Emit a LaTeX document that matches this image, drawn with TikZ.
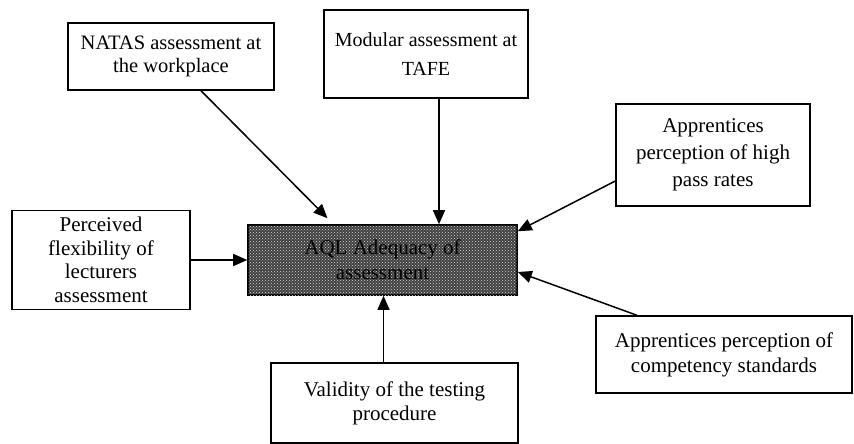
\documentclass[tikz,border=0pt]{standalone}
\usepackage{fontspec}
\setmainfont{Liberation Serif}
\usetikzlibrary{arrows.meta,patterns}

\begin{document}
\begin{tikzpicture}[x=1pt, y=-1pt,
    box/.style = {draw, line width=1.4pt, align=center, inner sep=2pt, font=\fontsize{21}{25}\selectfont},
    core/.style = {draw, line width=1.6pt, fill=black!75, postaction={pattern=crosshatch dots, pattern color=white!85!black}, align=center, minimum width=269pt, minimum height=70pt, font=\fontsize{21}{25}\selectfont},
    arr/.style = {line width=1.5pt, -{Triangle[length=14pt,width=12pt]}}]
    \useasboundingbox (0,0) rectangle (854,444);
    \node[core] (aql) at (382.5,260) {AQL Adequacy of\\assessment};
    \node[box, minimum width=206pt, minimum height=67pt, font=\fontsize{20.5}{23}\selectfont] (natas) at (171,56.5) {NATAS assessment at\\the workplace};
    \node[box, minimum width=204pt, minimum height=88pt, font=\fontsize{20}{29}\selectfont] (modular) at (426,54) {Modular assessment at\\TAFE};
    \node[box, minimum width=194pt, minimum height=102pt, font=\fontsize{21}{27}\selectfont] (pass) at (713,155) {Apprentices\\perception of high\\pass rates};
    \node[box, minimum width=178pt, minimum height=99pt, font=\fontsize{21}{23.5}\selectfont] (perceived) at (101,260) {Perceived\\flexibility of\\lecturers\\assessment};
    \node[box, minimum width=256pt, minimum height=77pt] (compet) at (724,354.5) {Apprentices perception of\\competency standards};
    \node[box, minimum width=247pt, minimum height=80pt, font=\fontsize{21}{24}\selectfont] (validity) at (394.5,403) {Validity of the testing\\procedure};
    % connectors
    \draw[arr] ([xshift=30pt]natas.south) -- ([xshift=-55pt,yshift=6pt]aql.north);
    \draw[arr] ([xshift=13pt]modular.south) -- ([xshift=13pt]modular.south |- aql.north);
    \draw[arr] ([yshift=-26pt]pass.west) -- ([yshift=-7pt]aql.north east);
    \draw[arr] (perceived.east) -- (aql.west);
    \draw[arr] ([xshift=-87pt]compet.north) -- ([yshift=-12pt]aql.east);
    \draw[arr] ([xshift=-11pt]validity.north) -- ([xshift=-11pt]validity.north |- aql.south);
\end{tikzpicture}
\end{document}
